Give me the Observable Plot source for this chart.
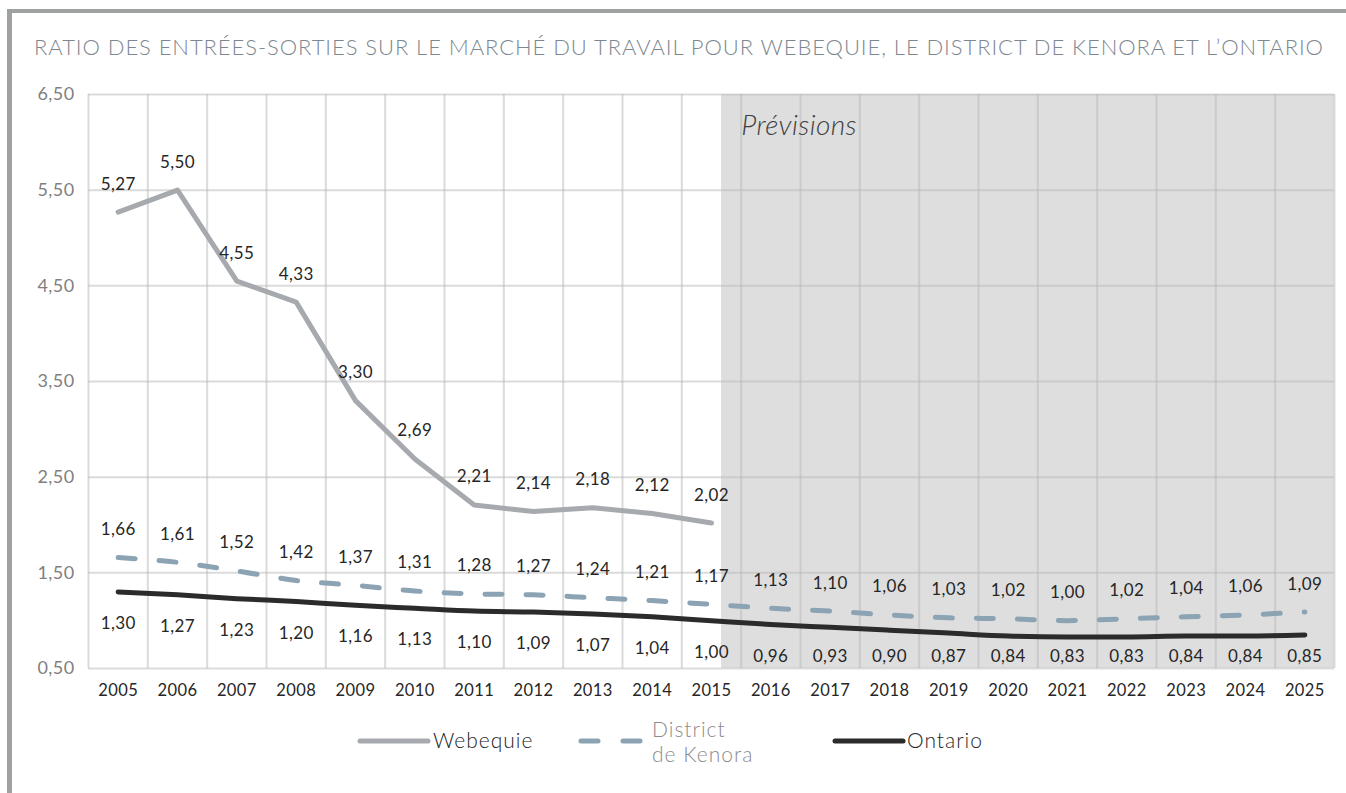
<!DOCTYPE html>
<html>
<head>
<meta charset="utf-8">
<script src="https://cdn.jsdelivr.net/npm/d3@7"></script>
<script src="https://cdn.jsdelivr.net/npm/@observablehq/plot@0.6"></script>
<style>
  html, body { margin: 0; padding: 0; background: #fff; }
  body { width: 1346px; height: 793px; position: relative; overflow: hidden; font-family: Lato, "Open Sans", sans-serif; }
  #frame { position: absolute; left: 7px; top: 9px; width: 1400px; height: 900px; border-top: 4px solid #9da1a1; border-left: 5px solid #9da1a1; }
  #title { position: absolute; left: 6px; width: 1346px; top: 33px; text-align: center; font-size: 22px; font-weight: 300; color: #7d8790; letter-spacing: 0.93px; white-space: nowrap; }
  #chart { position: absolute; left: 0; top: 80px; }
  #legend { position: absolute; left: 0; top: 712px; }
  #chart text { letter-spacing: 0.4px; }
</style>
</head>
<body>
<div id="frame"></div>
<div id="title">RATIO DES ENTRÉES-SORTIES SUR LE MARCHÉ DU TRAVAIL POUR WEBEQUIE, LE DISTRICT DE KENORA ET L’ONTARIO</div>
<div id="chart"></div>
<svg id="legend" width="1346" height="70"></svg>
<script>
const years = d3.range(2005, 2026);
const webequieYears = d3.range(2005, 2016);
const webequie = [5.27, 5.50, 4.55, 4.33, 3.30, 2.69, 2.21, 2.14, 2.18, 2.12, 2.02];
const kenora = [1.66, 1.61, 1.52, 1.42, 1.37, 1.31, 1.28, 1.27, 1.24, 1.21, 1.17, 1.13, 1.10, 1.06, 1.03, 1.02, 1.00, 1.02, 1.04, 1.06, 1.09];
const ontario = [1.30, 1.27, 1.23, 1.20, 1.16, 1.13, 1.10, 1.09, 1.07, 1.04, 1.00, 0.96, 0.93, 0.90, 0.87, 0.84, 0.83, 0.83, 0.84, 0.84, 0.85];
const yTicks = [0.5, 1.5, 2.5, 3.5, 4.5, 5.5, 6.5];
const forecastStart = 2015.17;
const forecastLabel = "Prévisions";
const seriesNames = ["Webequie", "District de Kenora", "Ontario"];

const fmt = v => v.toFixed(2).replace(".", ",");
const webData = webequieYears.map((y, i) => ({year: y, v: webequie[i]}));
const kenData = years.map((y, i) => ({year: y, v: kenora[i]}));
const ontData = years.map((y, i) => ({year: y, v: ontario[i]}));
const boundaries = d3.range(2004.5, 2026, 1);

const gridStyle = {stroke: "#b8b8b8", strokeOpacity: 0.5, strokeWidth: 2};
const labelStyle = {fill: "#262626", fontSize: 17};

const chart = Plot.plot({
  width: 1346,
  height: 620,
  marginTop: 14,
  marginBottom: 32,
  marginLeft: 88,
  marginRight: 12,
  style: {fontFamily: "Lato, 'Open Sans', sans-serif", background: "transparent"},
  x: {domain: [2004.5, 2025.5], label: null},
  y: {domain: [0.5, 6.5], label: null},
  marks: [
    Plot.rect([forecastStart], {x1: d => d, x2: 2025.5, y1: 0.5, y2: 6.5, fill: "#dedede"}),
    Plot.gridY(yTicks, gridStyle),
    Plot.gridX(boundaries, gridStyle),
    Plot.axisY({ticks: yTicks, tickSize: 0, tickPadding: 14, tickFormat: fmt, color: "#7f7f7f", fontSize: 18, label: null}),
    Plot.axisX({ticks: years, tickSize: 0, tickPadding: 16, tickFormat: d => String(d), color: "#262626", fontSize: 16.5, label: null}),
    Plot.text([forecastLabel], {x: 2015.5, y: 6.17, text: d => d, textAnchor: "start", fontSize: 28, fontStyle: "italic", fontWeight: 300, fill: "#404040"}),
    Plot.line(webData, {x: "year", y: "v", stroke: "#a6a9ad", strokeWidth: 5, strokeLinecap: "round", strokeLinejoin: "round"}),
    Plot.line(kenData, {x: "year", y: "v", stroke: "#8ba3b3", strokeWidth: 5, strokeDasharray: "17,24", strokeLinecap: "round", curve: "monotone-x"}),
    Plot.line(ontData, {x: "year", y: "v", stroke: "#2b2b2b", strokeWidth: 5, strokeLinecap: "round", curve: "monotone-x"}),
    Plot.text(webData, {x: "year", y: "v", text: d => fmt(d.v), dy: -28, ...labelStyle}),
    Plot.text(kenData, {x: "year", y: "v", text: d => fmt(d.v), dy: -28, ...labelStyle}),
    Plot.text(ontData, {x: "year", y: d => Math.max(d.v - 0.33, 0.63), text: d => fmt(d.v), ...labelStyle})
  ]
});
document.getElementById("chart").appendChild(chart);

// Legend
const lg = d3.select("#legend");
const legendFont = "Lato, 'Open Sans', sans-serif";
lg.append("line").attr("x1", 360).attr("x2", 428).attr("y1", 29).attr("y2", 29)
  .attr("stroke", "#a6a9ad").attr("stroke-width", 5).attr("stroke-linecap", "round");
lg.append("text").attr("x", 433).attr("y", 36).text(seriesNames[0])
  .attr("font-family", legendFont).attr("font-size", 21).attr("font-weight", 300).attr("letter-spacing", 1).attr("fill", "#262626");
lg.append("line").attr("x1", 581).attr("x2", 642).attr("y1", 29).attr("y2", 29)
  .attr("stroke", "#8ba3b3").attr("stroke-width", 5).attr("stroke-linecap", "round").attr("stroke-dasharray", "17,25");
const kt = lg.append("text").attr("font-family", legendFont).attr("font-size", 21).attr("font-weight", 300).attr("letter-spacing", 1).attr("fill", "#8c8c8c");
kt.append("tspan").attr("x", 652).attr("y", 25).text("District");
kt.append("tspan").attr("x", 652).attr("y", 50).text("de Kenora");
lg.append("line").attr("x1", 835).attr("x2", 903).attr("y1", 29).attr("y2", 29)
  .attr("stroke", "#2b2b2b").attr("stroke-width", 5).attr("stroke-linecap", "round");
lg.append("text").attr("x", 907).attr("y", 36).text(seriesNames[2])
  .attr("font-family", legendFont).attr("font-size", 21).attr("font-weight", 300).attr("letter-spacing", 1).attr("fill", "#262626");
</script>
</body>
</html>
